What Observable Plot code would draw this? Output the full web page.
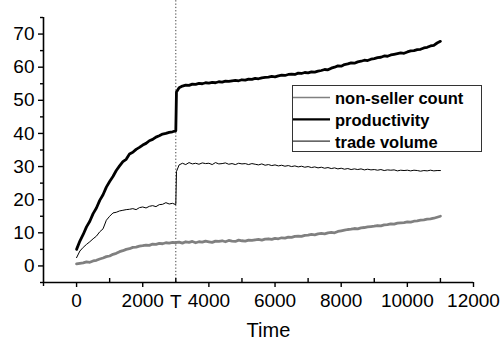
<!DOCTYPE html>
<html>
<head>
<meta charset="utf-8">
<script src="https://cdn.jsdelivr.net/npm/d3@7"></script>
<script src="https://cdn.jsdelivr.net/npm/@observablehq/plot@0.6"></script>
<style>
  html, body { margin: 0; padding: 0; background: #fff; }
  #chart { width: 503px; height: 344px; }
</style>
</head>
<body>
<div id="chart"></div>
<script>
// ---- data ----
const seriesNames = ["non-seller count", "productivity", "trade volume"];
const breakTime = 3000;
const breakLabel = "T";
const xTickValues = [0, 2000, 4000, 6000, 8000, 10000, 12000];
const xMinorTicks = [1000, 3000, 5000, 7000, 9000, 11000];
const yTickValues = [0, 10, 20, 30, 40, 50, 60, 70];
const yMinorTicks = [-5, 5, 15, 25, 35, 45, 55, 65, 75];
const xLabel = "Time";

// time samples: 0..3000 every 100, a point just after the jump, then 3100..11000 every 100
const timePre = [0,100,200,300,400,500,600,700,800,900,1000,1100,1200,1300,1400,1500,1600,1700,1800,1900,2000,2100,2200,2300,2400,2500,2600,2700,2800,2900,3000];
const timePost = [3020,
  3100,3200,3300,3400,3500,3600,3700,3800,3900,4000,
  4100,4200,4300,4400,4500,4600,4700,4800,4900,5000,
  5100,5200,5300,5400,5500,5600,5700,5800,5900,6000,
  6100,6200,6300,6400,6500,6600,6700,6800,6900,7000,
  7100,7200,7300,7400,7500,7600,7700,7800,7900,8000,
  8100,8200,8300,8400,8500,8600,8700,8800,8900,9000,
  9100,9200,9300,9400,9500,9600,9700,9800,9900,10000,
  10100,10200,10300,10400,10500,10600,10700,10800,10900,11000];

const productivity = [
  5.0,7.5,9.5,11.8,13.5,15.8,17.5,19.8,21.5,23.8,
  25.5,27.0,28.8,30.2,31.5,32.2,33.8,34.3,35.2,35.8,
  36.5,37.0,37.8,38.2,38.9,39.3,39.8,40.0,40.3,40.5,40.8,
  52.5,
  53.8,54.3,54.6,54.5,54.9,54.8,55.1,55.0,55.3,55.2,
  55.4,55.3,55.6,55.5,55.8,55.7,55.9,56.0,55.9,56.2,
  56.1,56.4,56.3,56.6,56.5,56.8,56.9,57.0,57.2,57.1,
  57.4,57.6,57.5,57.8,57.9,57.8,58.2,58.1,58.4,58.3,
  58.6,58.5,58.8,59.0,59.3,59.2,59.7,60.0,60.4,60.3,
  60.8,61.0,61.3,61.2,61.6,61.8,62.1,62.0,62.4,62.6,
  62.9,63.0,63.4,63.3,63.7,63.9,64.1,64.3,64.2,64.6,
  64.9,65.0,65.3,65.4,65.8,66.0,66.4,66.6,67.3,67.8];

const tradeVolume = [
  2.5,4.5,5.6,6.5,7.3,8.2,9.0,10.3,11.2,13.8,
  15.0,16.0,16.2,16.6,16.8,17.0,17.1,17.3,17.0,17.6,
  17.8,17.5,18.0,18.2,17.9,18.5,18.6,19.1,18.7,18.9,18.5,
  28.5,
  30.5,31.0,30.6,31.2,30.8,31.0,30.7,31.1,30.9,31.0,
  30.6,31.2,30.8,30.9,31.1,30.7,30.9,30.6,31.0,30.8,
  30.9,30.6,30.9,30.7,30.5,30.8,30.4,30.6,30.3,30.5,
  30.2,30.4,30.1,30.3,30.0,30.2,29.9,30.1,29.8,30.0,
  29.7,29.9,29.6,29.8,29.5,29.7,29.4,29.6,29.3,29.5,
  29.2,29.4,29.1,29.3,29.1,29.3,29.0,29.2,29.0,29.1,
  28.9,29.1,28.8,29.0,28.9,29.0,28.7,28.9,28.8,28.9,
  28.7,28.9,28.8,28.6,28.8,28.7,28.9,28.7,28.8,28.8];

const nonSellerCount = [
  0.6,0.8,0.9,1.2,1.1,1.5,1.7,2.1,2.4,2.8,
  3.0,3.5,3.8,4.3,4.6,5.0,5.2,5.6,5.7,6.0,
  6.1,6.3,6.2,6.6,6.5,6.8,6.7,7.0,6.9,7.1,7.0,
  7.1,
  7.2,6.9,7.3,7.1,7.4,7.0,7.3,7.2,7.5,7.3,
  7.1,7.5,7.4,7.6,7.3,7.7,7.5,7.4,7.8,7.6,
  7.5,7.8,7.7,7.9,8.0,7.8,8.1,8.2,8.0,8.3,
  8.2,8.5,8.4,8.7,8.6,8.9,9.0,8.9,9.2,9.3,
  9.5,9.4,9.7,9.8,9.7,10.0,10.1,10.0,10.4,10.6,
  10.8,11.0,11.1,11.3,11.2,11.5,11.6,11.8,11.9,12.0,
  12.2,12.1,12.4,12.5,12.7,12.6,12.9,13.0,13.1,13.3,
  13.2,13.5,13.6,13.8,13.9,14.1,14.2,14.4,14.7,15.0];

// ---- build table ----
const time = timePre.concat(timePost);
const rows = (vals, name) => time.map((t, i) => ({time: t, value: vals[i], series: name}));
const nsRows = rows(nonSellerCount, seriesNames[0]);
const prRows = rows(productivity, seriesNames[1]);
const tvRows = rows(tradeVolume, seriesNames[2]);

const FONT = "'Liberation Sans', Arial, Helvetica, sans-serif";
const fmt = d3.format("d");

const chart = Plot.plot({
  width: 503,
  height: 344,
  marginLeft: 43,
  marginRight: 30,
  marginTop: 17,
  marginBottom: 62,
  style: {fontFamily: FONT, fontSize: "19px", background: "#fff", color: "#000"},
  x: {domain: [-1000, 12000], axis: null},
  y: {domain: [-5, 75], axis: null},
  marks: [
    // dotted line at the break time
    Plot.ruleX([breakTime], {y1: -5, y2: 80.2, stroke: "#444", strokeWidth: 1, strokeDasharray: "1.3,2"}),
    // series
    Plot.line(nsRows, {x: "time", y: "value", stroke: "#808080", strokeWidth: 2.8}),
    Plot.line(tvRows, {x: "time", y: "value", stroke: "#000", strokeWidth: 1}),
    Plot.line(prRows, {x: "time", y: "value", stroke: "#000", strokeWidth: 2.8}),
    // axis lines
    Plot.ruleX([-1000], {y1: -5, y2: 75, stroke: "#000", strokeWidth: 1.6}),
    Plot.ruleY([-5], {x1: -1000, x2: 12000, stroke: "#000", strokeWidth: 1.6}),
    // y axis
    Plot.axisY({ticks: yTickValues, tickSize: 5, tickPadding: 4, tickFormat: fmt, label: null, stroke: "#000", strokeWidth: 1.4, fontSize: 19, letterSpacing: "1px", anchor: "left"}),
    Plot.axisY({ticks: yMinorTicks, tickSize: 3, tickFormat: () => "", label: null, stroke: "#000", strokeWidth: 1.4, anchor: "left"}),
    // x axis
    Plot.axisX({ticks: xTickValues, tickSize: 5, tickPadding: 6, tickFormat: fmt, label: null, stroke: "#000", strokeWidth: 1.4, fontSize: 19, letterSpacing: "1px", anchor: "bottom"}),
    Plot.axisX({ticks: [-1000], tickSize: 4, tickFormat: () => "", label: null, stroke: "#000", strokeWidth: 1.4, anchor: "bottom"}),
    Plot.ruleX(xMinorTicks, {y1: -5, y2: -3.8, stroke: "#000", strokeWidth: 1.4}),
    // break label
    Plot.text([breakLabel], {x: breakTime, y: -5, dy: 19, fontSize: 19, text: d => d, fill: "#000"}),
    // x label
    Plot.text([xLabel], {x: 5800, y: -5, dy: 48, fontSize: 20, text: d => d, fill: "#000"})
  ]
});

document.getElementById("chart").appendChild(chart);

// ---- legend (inside the SVG) ----
const svg = d3.select(chart);
const lg = svg.append("g").attr("font-family", FONT).attr("text-anchor", "start");
lg.append("rect").attr("x", 292.5).attr("y", 85.5).attr("width", 189).attr("height", 66)
  .attr("fill", "#fff").attr("stroke", "#333").attr("stroke-width", 1);
const legendItems = [
  {name: seriesNames[0], stroke: "#808080", w: 1.6},
  {name: seriesNames[1], stroke: "#000", w: 2.2},
  {name: seriesNames[2], stroke: "#000", w: 1}
];
legendItems.forEach((d, i) => {
  const cy = 97.5 + i * 21.8;
  lg.append("line").attr("x1", 293).attr("x2", 330).attr("y1", cy).attr("y2", cy)
    .attr("stroke", d.stroke).attr("stroke-width", d.w);
  lg.append("text").attr("x", 335).attr("y", cy + 6.5).attr("font-size", 16.5)
    .attr("text-anchor", "start").attr("font-weight", "bold").attr("fill", "#000").text(d.name);
});
</script>
</body>
</html>
